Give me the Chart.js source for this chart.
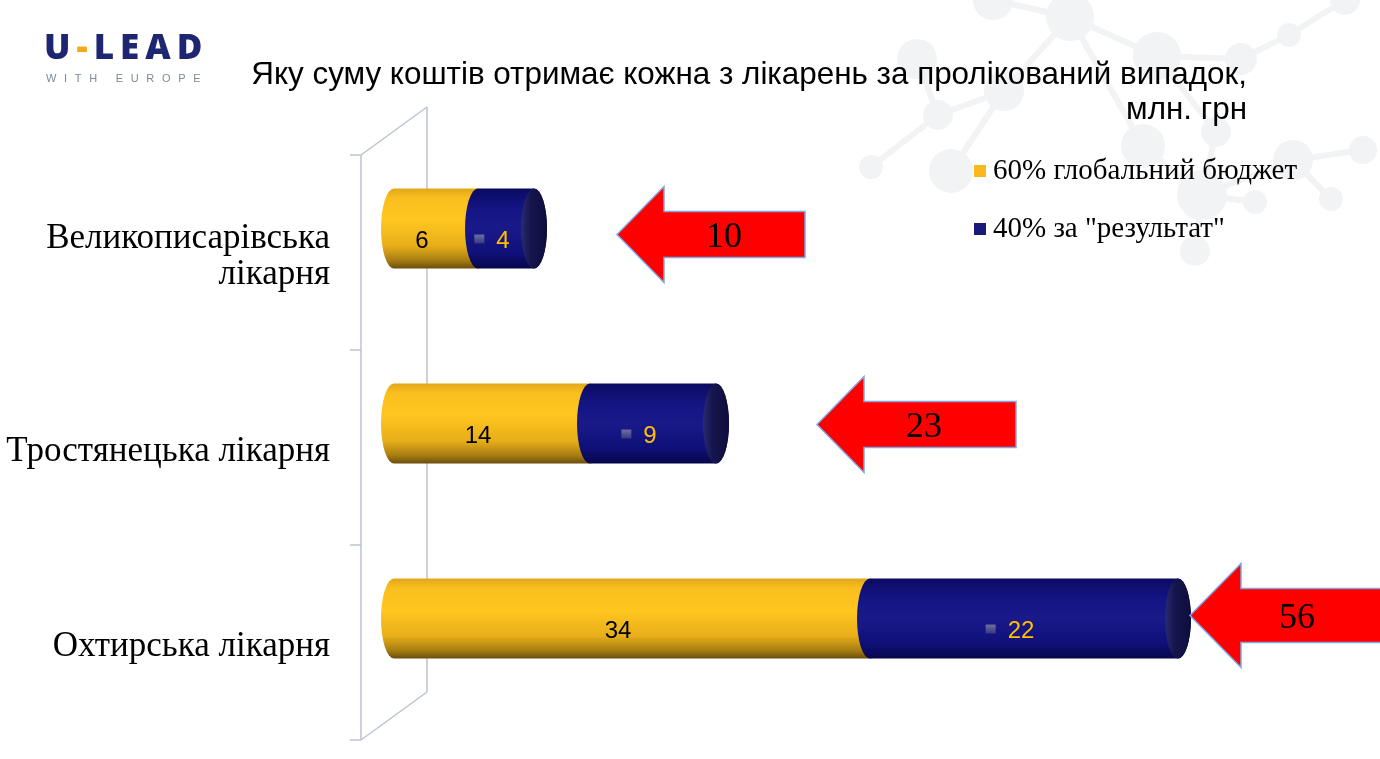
<!DOCTYPE html>
<html>
<head>
<meta charset="utf-8">
<script src="https://cdn.jsdelivr.net/npm/chart.js@4.4.0/dist/chart.umd.min.js"></script>
<style>
  html, body { margin: 0; padding: 0; background: #fff; }
  #stage { position: relative; width: 1380px; height: 759px; overflow: hidden; }
  #bg { position: absolute; left: 0; top: 0; z-index: 0; }
  #chart { position: absolute; left: 0; top: 0; z-index: 1; }
  .txt { position: absolute; z-index: 2; white-space: nowrap; }
  #logo { left: 44px; top: 26px; font-family: "Open Sans", Arial, sans-serif; font-weight: 800; font-size: 35px; color: #1e2672; letter-spacing: 6px; line-height: 40px; }
  #logo .dash { color: #f4a81d; }
  #logo2 { left: 46px; top: 72px; font-family: Arial, sans-serif; font-size: 11px; color: #7d8a98; letter-spacing: 7.7px; }
  #title { right: 133px; top: 56px; text-align: right; font-family: "Liberation Sans", Arial, sans-serif; font-size: 31.4px; line-height: 35px; color: #000; }
  #legend { left: 974px; top: 151px; font-family: "Liberation Serif", "Times New Roman", serif; font-size: 29px; color: #000; }
  #legend .item { height: 58px; line-height: 36px; }
  #legend .key { display: inline-block; width: 12px; height: 12px; margin-right: 7px; vertical-align: 2px; }
</style>
</head>
<body>
<div id="stage">
  <svg id="bg" width="1380" height="759"></svg>
  <canvas id="chart" width="1380" height="759"></canvas>
  <div id="logo" class="txt">U<span class="dash">-</span>LEAD</div>
  <div id="logo2" class="txt">WITH EUROPE</div>
  <div id="title" class="txt">Яку суму коштів отримає кожна з лікарень за пролікований випадок,<br>млн. грн</div>
  <div id="legend" class="txt"></div>
</div>
<script>
// дані
const categories = [['Великописарівська', 'лікарня'], 'Тростянецька лікарня', 'Охтирська лікарня'];
const seriesNames = ['60% глобальний бюджет', '40% за "результат"'];
const globalBudget = [6, 14, 34];
const resultPart = [4, 9, 22];
const axisMin = 0;
const axisMax = 60;

// оформлення
const depth = { x: 66, y: -48 };      // глибина "стінки" осі
const shift = { x: 33, y: -24 };      // зсув циліндрів у глибину
const capRx = 13;
const arrowLayout = [
  { gap: 70, len: 188, head: 47, headH: 48, shaftH: 23, dy: 6 },
  { gap: 88, len: 199, head: 47, headH: 48, shaftH: 23, dy: 1 },
  { gap: -1, len: 215, head: 51, headH: 52, shaftH: 27, dy: -3 }
];

// фон: молекули
const nodes = [[993,0,20],[1070,17,24],[1157,56,24],[1241,59,16],[1289,35,12],[1345,0,15],[917,59,20],[938,115,15],
  [871,167,12],[951,171,22],[1004,91,20],[1143,146,22],[1216,132,15],[1202,195,25],[1195,251,15],[1255,202,12],
  [1293,160,20],[1331,199,12],[1363,150,14]];
const links = [[0,1],[1,2],[2,3],[4,5],[2,12],[6,7],[7,8],[7,10],[9,10],[10,1],[1,11],[11,13],[12,13],[13,14],
  [13,16],[16,18],[16,17],[15,13],[3,4]];
(function drawBg() {
  const svg = document.getElementById('bg');
  let s = '';
  links.forEach(([a, b]) => {
    s += `<line x1="${nodes[a][0]}" y1="${nodes[a][1]}" x2="${nodes[b][0]}" y2="${nodes[b][1]}" stroke="#f2f3f5" stroke-width="6"/>`;
  });
  nodes.forEach(([x, y, r]) => { s += `<circle cx="${x}" cy="${y}" r="${r}" fill="#f2f3f5"/>`; });
  svg.innerHTML = s;
})();

// легенда
const legendColors = ['#f9b91e', '#1a1a78'];
document.getElementById('legend').innerHTML = seriesNames.map((n, i) =>
  `<div class="item"><span class="key" style="background:${legendColors[i]}"></span>${n}</div>`).join('');

function yellowGrad(ctx, top, h) {
  const g = ctx.createLinearGradient(0, top, 0, top + h);
  g.addColorStop(0, '#e2a718');
  g.addColorStop(0.12, '#f9bf1f');
  g.addColorStop(0.4, '#ffc61f');
  g.addColorStop(0.72, '#e7ae19');
  g.addColorStop(0.9, '#a77d12');
  g.addColorStop(1, '#6a4e0c');
  return g;
}
function blueGrad(ctx, top, h) {
  const g = ctx.createLinearGradient(0, top, 0, top + h);
  g.addColorStop(0, '#0b0b62');
  g.addColorStop(0.25, '#141484');
  g.addColorStop(0.5, '#19198a');
  g.addColorStop(0.8, '#10107a');
  g.addColorStop(1, '#07074c');
  return g;
}

function cylPath(ctx, xa, xb, cy, ry) {
  ctx.beginPath();
  ctx.moveTo(xa, cy - ry);
  ctx.lineTo(xb, cy - ry);
  ctx.ellipse(xb, cy, capRx, ry, 0, -Math.PI / 2, Math.PI / 2, false);
  ctx.lineTo(xa, cy + ry);
  ctx.ellipse(xa, cy, capRx, ry, 0, Math.PI / 2, Math.PI * 1.5, false);
  ctx.closePath();
}

function drawArrow(ctx, tipX, cy, a) {
  const endX = tipX + a.len, neckX = tipX + a.head;
  ctx.beginPath();
  ctx.moveTo(tipX, cy);
  ctx.lineTo(neckX, cy - a.headH);
  ctx.lineTo(neckX, cy - a.shaftH);
  ctx.lineTo(endX, cy - a.shaftH);
  ctx.lineTo(endX, cy + a.shaftH);
  ctx.lineTo(neckX, cy + a.shaftH);
  ctx.lineTo(neckX, cy + a.headH);
  ctx.closePath();
  ctx.fillStyle = '#ff0000';
  ctx.fill();
  ctx.strokeStyle = '#7ea7e6';
  ctx.lineWidth = 1.5;
  ctx.stroke();
}

const cylinders = {
  id: 'cylinders',
  beforeDatasetsDraw(chart) {
    const { ctx, chartArea: a } = chart;
    ctx.save();
    ctx.strokeStyle = '#bcc3cf';
    ctx.lineWidth = 1.5;
    ctx.beginPath();
    ctx.moveTo(a.left, a.top); ctx.lineTo(a.left, a.bottom);
    ctx.moveTo(a.left + depth.x, a.top + depth.y); ctx.lineTo(a.left + depth.x, a.bottom + depth.y);
    ctx.moveTo(a.left, a.top); ctx.lineTo(a.left + depth.x, a.top + depth.y);
    ctx.moveTo(a.left, a.bottom); ctx.lineTo(a.left + depth.x, a.bottom + depth.y);
    const n = categories.length, step = (a.bottom - a.top) / n;
    for (let i = 0; i <= n; i++) {
      const y = a.top + i * step;
      ctx.moveTo(a.left - 11, y); ctx.lineTo(a.left, y);
    }
    ctx.stroke();
    ctx.restore();
  },
  afterDatasetsDraw(chart) {
    const { ctx } = chart;
    const last = chart.data.datasets.length - 1;
    ctx.save();
    chart.data.datasets.forEach((ds, d) => {
      chart.getDatasetMeta(d).data.forEach((el) => {
        const p = el.getProps(['x', 'base', 'y', 'height'], true);
        const xa = p.base + shift.x, xb = p.x + shift.x, cy = p.y + shift.y, ry = p.height / 2;
        cylPath(ctx, xa, xb, cy, ry);
        ctx.fillStyle = d === 0 ? yellowGrad(ctx, cy - ry, p.height) : blueGrad(ctx, cy - ry, p.height);
        ctx.fill();
        if (d === last) {
          const g = ctx.createLinearGradient(xb - capRx, 0, xb + capRx, 0);
          g.addColorStop(0, '#2a2a72');
          g.addColorStop(0.35, '#16164e');
          g.addColorStop(1, '#0d0d3c');
          ctx.beginPath();
          ctx.ellipse(xb, cy, capRx, ry, 0, 0, Math.PI * 2);
          ctx.fillStyle = g;
          ctx.fill();
        }
      });
    });

    // підписи значень
    ctx.font = '24px "Liberation Sans", Arial, sans-serif';
    ctx.textBaseline = 'middle';
    chart.data.datasets.forEach((ds, d) => {
      chart.getDatasetMeta(d).data.forEach((el, i) => {
        const p = el.getProps(['x', 'base', 'y'], true);
        const cx = (p.x + p.base) / 2 + 19, cy = p.y - 11;
        const txt = String(ds.data[i]);
        if (d === 0) {
          ctx.fillStyle = '#000';
          ctx.textAlign = 'center';
          ctx.fillText(txt, cx, cy);
        } else {
          const w = ctx.measureText(txt).width, mw = 10, gap = 12;
          const x0 = cx - (mw + gap + w) / 2;
          const mg = ctx.createLinearGradient(0, cy - 6, 0, cy + 4);
          mg.addColorStop(0, '#6a6aa0');
          mg.addColorStop(1, '#2a2a78');
          ctx.fillStyle = mg;
          ctx.fillRect(x0, cy - 7, mw, 9);
          ctx.fillStyle = '#ffc000';
          ctx.textAlign = 'left';
          ctx.fillText(txt, x0 + mw + gap, cy);
        }
      });
    });

    // стрілки з підсумками
    const lastMeta = chart.getDatasetMeta(last);
    ctx.font = '36px "Liberation Serif", "Times New Roman", serif';
    ctx.textAlign = 'center';
    lastMeta.data.forEach((el, i) => {
      const p = el.getProps(['x', 'y'], true);
      const a = arrowLayout[i];
      const tipX = p.x + shift.x + capRx + a.gap, cy = p.y + shift.y + a.dy;
      drawArrow(ctx, tipX, cy, a);
      const total = chart.data.datasets.reduce((s, ds) => s + ds.data[i], 0);
      ctx.fillStyle = '#000';
      ctx.fillText(String(total), tipX + 107, cy + 3);
    });
    ctx.restore();
  }
};

new Chart(document.getElementById('chart'), {
  type: 'bar',
  data: {
    labels: categories,
    datasets: [
      { label: seriesNames[0], data: globalBudget, backgroundColor: 'rgba(0,0,0,0)' },
      { label: seriesNames[1], data: resultPart, backgroundColor: 'rgba(0,0,0,0)' }
    ]
  },
  options: {
    indexAxis: 'y',
    responsive: false,
    devicePixelRatio: 1,
    animation: false,
    events: [],
    layout: { padding: { left: 0, top: 155, right: 179, bottom: 19 } },
    datasets: { bar: { barThickness: 80 } },
    scales: {
      x: { stacked: true, min: axisMin, max: axisMax, display: false },
      y: {
        stacked: true,
        grid: { display: false, drawTicks: false },
        border: { display: false },
        ticks: {
          color: '#000',
          padding: 31,
          labelOffset: 4,
          font: { family: '"Liberation Serif", "Times New Roman", serif', size: 35, lineHeight: 1.03 }
        },
        afterFit(scale) {
          scale.width = 361;
          scale.paddingTop = 0;
          scale.paddingBottom = 0;
        }
      }
    },
    plugins: { legend: { display: false }, tooltip: { enabled: false } }
  },
  plugins: [cylinders]
});
</script>
</body>
</html>
